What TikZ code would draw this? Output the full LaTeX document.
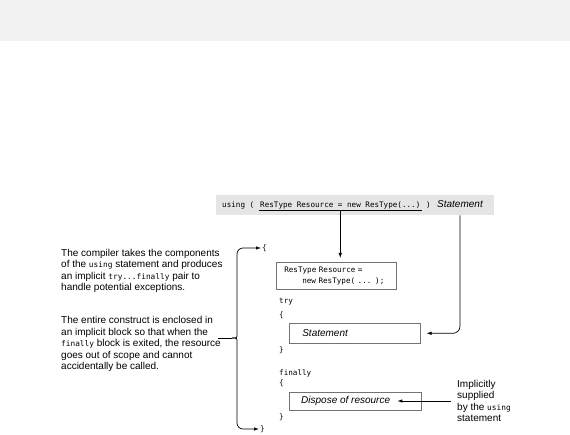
\documentclass[tikz,border=0pt]{standalone}
\usepackage{fontspec}
\setmainfont{Liberation Sans}
\setmonofont{DejaVu Sans Mono}
\usetikzlibrary{arrows.meta}
\newcommand{\kw}[1]{{\ttfamily\fontsize{7.8}{11.5}\selectfont #1}}

\begin{document}
\begin{tikzpicture}[
    x=1pt, y=-1pt,
    ptr/.style={-{Latex[length=5pt, width=3.5pt]}, line width=0.7pt},
    codetxt/.style={font=\ttfamily\fontsize{7.6}{11}\selectfont, inner sep=1pt},
    note/.style={font=\fontsize{10}{11.5}\selectfont, align=left, inner sep=0pt},
    slanted/.style={font=\itshape\fontsize{10}{11.5}\selectfont},
    codebox/.style={draw=black!55, line width=0.6pt}
    ]

    \useasboundingbox (0,0) rectangle (570,435);
    \fill[black!5] (0,0) rectangle (570,41);

    \node[fill=black!10, minimum width=278pt, minimum height=20pt, inner sep=0pt, anchor=north west] (bar) at (216,195) {};
    \node[codetxt, anchor=base west] (usingkw) at (221,208) {using (};
    \node[codetxt, anchor=base west] (decl) at (259,208) {ResType Resource = new ResType(...)};
    \node[codetxt, anchor=base west] (closep) at (425,208) {)};
    \node[note, slanted, anchor=base west] (stmt) at (437,208) {Statement};

    \node[codetxt, anchor=west] (lbrace) at (261,248) {\{};
    \node[codebox, codetxt, anchor=north west, minimum width=120pt, minimum height=27pt, inner xsep=8pt, text width=104pt, align=left] (resbox) at (276,262) {ResType Resource =\\\hspace*{18pt}new ResType( ... );};
    \node[codetxt, anchor=west] (trykw) at (278,302) {try};
    \node[codetxt, anchor=west] (tryopen) at (278,315) {\{};
    \node[codebox, note, slanted, anchor=north west, minimum width=131pt, minimum height=20pt, inner xsep=13pt, text width=105pt] (stmtbox) at (289,323) {Statement};
    \node[codetxt, anchor=west] (tryclose) at (278,350) {\}};
    \node[codetxt, anchor=west] (finkw) at (278,373) {finally};
    \node[codetxt, anchor=west] (finopen) at (278,383) {\{};
    \node[codebox, anchor=north west, minimum width=132pt, minimum height=18pt] (dispbox) at (289,392) {};
    \node[note, slanted, inner xsep=7pt, anchor=west] (disptxt) at (294,401) {Dispose of resource};
    \node[codetxt, anchor=west] (finclose) at (278,417) {\}};
    \node[codetxt, anchor=west] (rbrace) at (259,429) {\}};

    \node[note, anchor=west] (compiler) at (61,271) {The compiler takes the components\\of the \kw{using} statement and produces\\an implicit \kw{try...finally} pair to\\handle potential exceptions.};
    \node[note, anchor=west] (scope) at (61,344) {The entire construct is enclosed in\\an implicit block so that when the\\\kw{finally} block is exited, the resource\\goes out of scope and cannot\\accidentally be called.};
    \node[note, anchor=west] (implied) at (457,401) {Implicitly\\supplied\\by the \kw{using}\\statement};

    \coordinate (stub) at (218,338);
    \coordinate (tip) at (232,338);

    \draw[line width=0.6pt] (decl.south west) -- (decl.south east);
    \draw[ptr, shorten >=4pt] (decl.south) -- (decl.south |- resbox.north);
    \draw[ptr, rounded corners=7pt, shorten >=6pt] (stmt.south |- bar.south) |- (stmtbox.east);
    \draw[ptr, shorten <=6pt] (implied.west) -- (disptxt.east);
    \draw[line width=0.7pt] (stub) -- (tip);
    \draw[ptr, rounded corners=6pt] (tip) .. controls (237,338) .. (237,328) -- (237,248) -- (lbrace.west);
    \draw[ptr, rounded corners=6pt] (tip) .. controls (237,338) .. (237,348) -- (237,429) -- (rbrace.west);

\end{tikzpicture}
\end{document}
